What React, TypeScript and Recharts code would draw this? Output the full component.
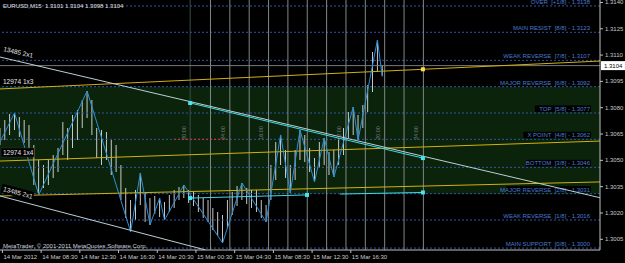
import React from 'react';
import { ComposedChart, XAxis, YAxis, Bar, Line, Scatter, ReferenceLine, ReferenceArea } from 'recharts';

const FONT = "'Liberation Sans', Arial, sans-serif";

// ---- price bars (every second M15 bar) ----
const highs = [
  1.30684, 1.3073, 1.30764, 1.3077, 1.30747, 1.3073, 1.30702, 1.30588, 1.30502, 1.30474,
  1.30502, 1.30531, 1.3057, 1.30719, 1.30684, 1.30759, 1.30787, 1.30844, 1.30895, 1.30844,
  1.30684, 1.30673, 1.30662, 1.30616, 1.30588, 1.30474, 1.30342, 1.30274, 1.30331, 1.30428,
  1.3032, 1.30285, 1.30297, 1.30285, 1.30263, 1.30303, 1.30331, 1.30348, 1.3036, 1.30331,
  1.3032, 1.30303, 1.30285, 1.30274, 1.30228, 1.30206, 1.30189, 1.30274, 1.3032, 1.30354,
  1.30371, 1.30342, 1.30331, 1.30331, 1.30274, 1.30246, 1.30474, 1.30605, 1.30645, 1.30559,
  1.30474, 1.30559, 1.30673, 1.30645, 1.3057, 1.30513, 1.30605, 1.30627, 1.30548, 1.30559,
  1.30627, 1.30684, 1.30776, 1.30804, 1.30759, 1.30816, 1.3093, 1.31118, 1.31186, 1.3104,
];
const lows = [
  1.30588, 1.30616, 1.30645, 1.30673, 1.30633, 1.30599, 1.30559, 1.3036, 1.30303, 1.30342,
  1.3036, 1.30399, 1.30434, 1.30531, 1.30502, 1.3057, 1.30616, 1.30684, 1.30741, 1.30645,
  1.30513, 1.30474, 1.30502, 1.30417, 1.30434, 1.30274, 1.30171, 1.30092, 1.3016, 1.30246,
  1.30149, 1.30132, 1.30194, 1.30177, 1.3016, 1.30206, 1.30228, 1.30274, 1.30285, 1.30257,
  1.3024, 1.30206, 1.30171, 1.30149, 1.30103, 1.30069, 1.30029, 1.30114, 1.30189, 1.3024,
  1.30274, 1.30251, 1.30228, 1.30206, 1.30171, 1.30149, 1.30274, 1.30388, 1.30474, 1.30399,
  1.30314, 1.30388, 1.30502, 1.30491, 1.30434, 1.30377, 1.30456, 1.30474, 1.30417, 1.30405,
  1.30474, 1.30531, 1.30627, 1.30645, 1.30616, 1.30684, 1.30776, 1.3089, 1.31004, 1.3098,
];

// ---- zigzag ----
const zigBars = [0, 6, 16, 36, 54, 58, 62, 66, 68, 76, 92, 100, 110, 116, 120, 124, 130, 134, 138, 146, 148, 156, 158];
const zigPrices = [1.30605, 1.3077, 1.30303, 1.30895, 1.30092, 1.30428, 1.30132, 1.30285, 1.3016, 1.3036, 1.30029, 1.30371, 1.30149, 1.30645, 1.30314, 1.30673, 1.30377, 1.30627, 1.30405, 1.30804, 1.30616, 1.31186, 1.3098];

// ---- Murrey Math levels ----
const murreyNames = ['OVER', 'MAIN RESIST', 'WEAK REVERSE', 'MAJOR REVERSE', 'TOP', 'X POINT', 'BOTTOM', 'MAJOR REVERSE', 'WEAK REVERSE', 'MAIN SUPPORT'];
const murreyFracs = ['+1/8', '8/8', '7/8', '6/8', '5/8', '4/8', '3/8', '2/8', '1/8', '0/8'];
const murreyLevels = [1.3138, 1.3123, 1.3107, 1.3092, 1.3077, 1.3062, 1.3046, 1.3031, 1.3016, 1.3];

// ---- trend / gann lines (bar, price endpoints) ----
const whiteA = [[0, 1.31089], [248, 1.30287]];
const whiteB = [[0, 1.30297], [85, 1.29989]];
const yellow1 = [[0, 1.30907], [248, 1.31066]];
const yellow2 = [[0, 1.30496], [248, 1.3061]];
const yellow3 = [[0, 1.30297], [248, 1.30377]];
const cyanC = [[78.6, 1.30827], [174.8, 1.30513]];
const cyanH1 = [[78.6, 1.30285], [126.9, 1.30303]];
const cyanH2 = [[140.5, 1.30308], [174.8, 1.30317]];
const redSeg = [[72, 1.3062], [94, 1.3062]];
const cyanMarkers = [[78.6, 1.30827], [174.8, 1.30513], [78.6, 1.30285], [126.9, 1.30303], [174.8, 1.30317]];
const yellowMarkers = [[174.8, 1.31019]];

// ---- time separators and labels ----
const darkVLines = [78.6];
const lightVLines = [87, 95, 103, 111, 119, 127, 135, 143, 151, 159, 167, 175];
const rotBars = [76.9, 93, 108.7, 140.9, 157, 172.7];
const rotTexts = ['20:00', '24:00', '16:00', '12:00', '20:00', '24:00'];
const rotPrice = 1.30656;

const xTickBars = [1, 17, 33, 49, 65, 81, 97, 113, 129, 145];
const xTickLabels = ['14 Mar 2012', '14 Mar 08:30', '14 Mar 12:30', '14 Mar 16:30', '14 Mar 20:30', '15 Mar 00:30', '15 Mar 04:30', '15 Mar 08:30', '15 Mar 12:30', '15 Mar 16:30'];
const yTicks = [1.3005, 1.302, 1.3035, 1.305, 1.3065, 1.308, 1.3095, 1.311, 1.3125, 1.314];
const bidPrice = 1.3104;

const barData = highs.map((h, i) => ({ bar: i * 2, range: [lows[i], h] }));
const zigData = zigBars.map((b, i) => ({ bar: b, p: zigPrices[i] }));
const toData = (arr: number[][]) => arr.map(([b, p]) => ({ bar: b, p }));
const rotData = rotBars.map((b, i) => ({ bar: b, p: rotPrice, t: rotTexts[i] }));

function MurreyLabel(props: any) {
  const vb = props.viewBox || {};
  const y = vb.y ?? 0;
  const right = (vb.x ?? 0) + (vb.width ?? 600) - 10;
  const text: string = props.text;
  const w = text.length * 2.85;
  return (
    <g>
      <rect x={right - w - 1} y={y - 7.5} width={w + 2} height={6.5} fill="#000" />
      <text x={right} y={y - 2} textAnchor="end" fontSize={6} fill="#4b7bd0" fontFamily={FONT} style={{ whiteSpace: 'pre' }}>
        {text}
      </text>
    </g>
  );
}

function BidLabel(props: any) {
  const vb = props.viewBox || {};
  const y = vb.y ?? 0;
  const x = (vb.x ?? 0) + (vb.width ?? 600);
  return (
    <g>
      <rect x={x + 1} y={y - 4.5} width={24} height={9} fill="#fff" />
      <text x={x + 4} y={y + 2.2} fontSize={6} fill="#000" fontFamily={FONT}>{bidPrice.toFixed(4)}</text>
    </g>
  );
}

const SquareCyan = (p: any) => <rect x={p.cx - 2} y={p.cy - 2} width={4} height={4} fill="#40e8f0" />;
const SquareYellow = (p: any) => <rect x={p.cx - 2} y={p.cy - 2} width={4} height={4} fill="#ffe040" />;
const RotText = (p: any) => (
  <text x={p.cx} y={p.cy} transform={`rotate(-90, ${p.cx}, ${p.cy})`} textAnchor="middle" fontSize={5.5} fill="#7a8080" fontFamily={FONT}>
    {p.payload.t}
  </text>
);

const XTick = (p: any) => {
  const idx = xTickBars.indexOf(p.payload.value);
  return (
    <g>
      <line x1={p.x} y1={250} x2={p.x} y2={253} stroke="#c0c0c0" />
      <text x={p.x + 1} y={258.5} fontSize={6} fill="#c8c8c8" fontFamily={FONT}>{xTickLabels[idx]}</text>
    </g>
  );
};
const YTick = (p: any) => (
  <g>
    <line x1={600} y1={p.y} x2={603} y2={p.y} stroke="#c0c0c0" />
    <text x={605} y={p.y + 2} fontSize={6} fill="#c8c8c8" fontFamily={FONT}>{Number(p.payload.value).toFixed(4)}</text>
  </g>
);

const lineProps = { dot: false, isAnimationActive: false, type: 'linear' as const, dataKey: 'p', activeDot: false };

export default function App() {
  return (
    <div style={{ position: 'absolute', left: 0, top: 0, width: 625, height: 263, background: '#000', overflow: 'hidden' }}>
      <ComposedChart width={625} height={263} data={barData} margin={{ top: 0, right: 0, left: 0, bottom: 0 }}>
        <XAxis dataKey="bar" type="number" domain={[0, 248]} ticks={xTickBars} tick={XTick} tickLine={false} axisLine={{ stroke: '#c0c0c0' }} height={13} allowDataOverflow interval={0} />
        <YAxis orientation="right" type="number" domain={[1.29989, 1.31414]} ticks={yTicks} tick={YTick} tickLine={false} axisLine={{ stroke: '#c0c0c0' }} width={25} allowDataOverflow interval={0} />
        <ReferenceArea y1={1.3031} y2={1.3092} fill="#0b230b" fillOpacity={1} stroke="none" />
        {murreyLevels.map((lv, i) => (
          <ReferenceLine key={'m' + i} y={lv} stroke="#2f55a8" strokeDasharray="2 2"
            label={<MurreyLabel text={`${murreyNames[i]}  [${murreyFracs[i]}] - ${lv.toFixed(4)}`} />} />
        ))}
        {darkVLines.map((b) => <ReferenceLine key={'d' + b} x={b} stroke="#3c4c4c" />)}
        {lightVLines.map((b) => <ReferenceLine key={'l' + b} x={b} stroke="#7f8888" />)}
        <ReferenceLine y={bidPrice} stroke="#7a7a7a" label={<BidLabel />} />
        <Line data={toData(yellow1)} stroke="#d2b010" {...lineProps} />
        <Line data={toData(yellow2)} stroke="#d2b010" {...lineProps} />
        <Line data={toData(yellow3)} stroke="#d2b010" {...lineProps} />
        <Line data={toData(redSeg)} stroke="#e03048" strokeDasharray="2 2" {...lineProps} />
        <Bar dataKey="range" barSize={1} fill="#e4e4e4" isAnimationActive={false} />
        <Line data={zigData} stroke="#2a90d8" {...lineProps} />
        <Line data={toData(whiteA)} stroke="#b8d0d4" {...lineProps} />
        <Line data={toData(whiteB)} stroke="#b8d0d4" {...lineProps} />
        <Line data={toData(cyanC)} stroke="#40d8e8" {...lineProps} />
        <Line data={toData(cyanH1)} stroke="#40d8e8" {...lineProps} />
        <Line data={toData(cyanH2)} stroke="#40d8e8" {...lineProps} />
        <Scatter data={toData(cyanMarkers)} dataKey="p" shape={SquareCyan} isAnimationActive={false} />
        <Scatter data={toData(yellowMarkers)} dataKey="p" shape={SquareYellow} isAnimationActive={false} />
        <Scatter data={rotData} dataKey="p" shape={RotText} isAnimationActive={false} />
      </ComposedChart>
      <svg width={625} height={263} style={{ position: 'absolute', left: 0, top: 0, pointerEvents: 'none' }}>
        <text x={3} y={8} fontSize={6} fill="#e0e0e0" fontFamily={FONT} style={{ whiteSpace: 'pre' }}>EURUSD,M15  1.3101 1.3104 1.3098 1.3104</text>
        <text x={3} y={51} fontSize={6.5} fill="#e8e8e8" fontFamily={FONT} transform="rotate(13, 3, 51)">13485 2x1</text>
        <text x={3} y={84} fontSize={6.5} fill="#e8e8e8" fontFamily={FONT}>12974 1x3</text>
        <rect x={1} y={148} width={33} height={9} fill="#000" stroke="#333" strokeWidth={0.5} />
        <text x={3} y={155} fontSize={6.5} fill="#e8e8e8" fontFamily={FONT}>12974 1x4</text>
        <g transform="rotate(15, 3, 190)">
          <rect x={1} y={184} width={33} height={9} fill="#000" />
          <text x={3} y={191} fontSize={6.5} fill="#e8e8e8" fontFamily={FONT}>13485 2x1</text>
        </g>
        <text x={3} y={248} fontSize={6} fill="#d0d0d0" fontFamily={FONT}>MetaTrader, © 2001-2011 MetaQuotes Software Corp.</text>
      </svg>
    </div>
  );
}
